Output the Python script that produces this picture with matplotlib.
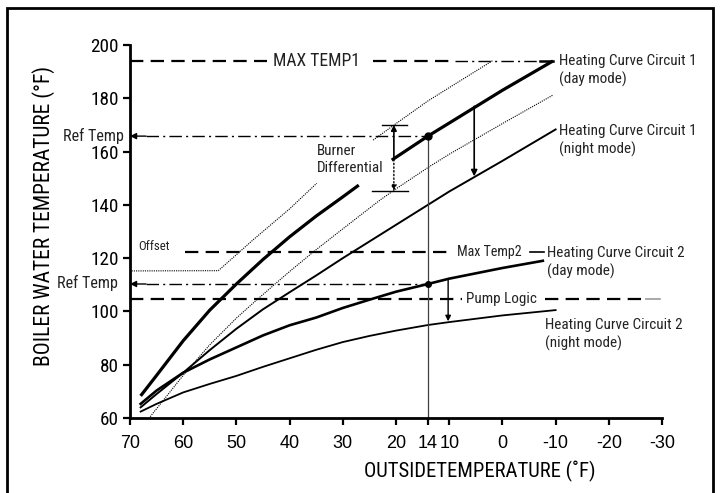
import numpy as np
import matplotlib
matplotlib.use("Agg")
import matplotlib.pyplot as plt
from matplotlib.patches import Rectangle
from matplotlib import font_manager as fm

# pick a narrow face if one is installed (chart uses Arial Narrow style text)
_faces = fm.fontManager.ttflist
_names = {f.name for f in _faces}
NARROW_KW = None
for n in ['Liberation Sans Narrow', 'Arial Narrow', 'Roboto Condensed', 'DejaVu Sans Condensed',
          'Open Sans Condensed', 'Noto Sans Condensed']:
    if n in _names:
        NARROW_KW = dict(family=[n, 'DejaVu Sans'])
        break
if NARROW_KW is None:
    for n in ['Liberation Sans', 'Roboto', 'Open Sans', 'Noto Sans', 'DejaVu Sans']:
        if any(f.name == n and f.stretch in ('condensed', 'semi-condensed', 'extra-condensed', 300, 400)
               and f.stretch != 'normal' for f in _faces):
            NARROW_KW = dict(family=[n, 'DejaVu Sans'], stretch='condensed')
            break
SHRINK = 1.0
if NARROW_KW is None:
    NARROW_KW = dict(family=['Roboto', 'DejaVu Sans'])
    SHRINK = 0.9
REG = ['Liberation Sans', 'DejaVu Sans']
nan = np.nan

# heating curves (outside temp F -> boiler water temp F)
day1_x = [68, 65, 60, 55, 50, 45, 40, 35, 30, 27, nan, 20.8, 14, 10, 0, -9.5]
day1_y = [68.3, 76, 89, 100.5, 110.3, 119.5, 128, 135.8, 143, 147.4, nan, 156.8, 165.8, 170.7, 183, 194]

band_hi_x = [69.7, 53.4, 50, 46.9, 40, 34.9, nan, 24.3, 20, 14, 10, 1.7]
band_hi_y = [115.2, 115.3, 121.3, 126.8, 138.5, 148.1, nan, 164.3, 170.5, 179, 184, 194.3]

band_lo_x = [66.2, 60, 55, 50, 46.2, 40, 35, 30, 23, 20, 14, 10, 0, -9.5]
band_lo_y = [60.5, 76, 87.5, 97.5, 104.3, 115, 123.2, 131, 141.8, 146, 154, 159, 170.5, 181.2]

night1_x = [68, 65, 60, 55, 50, 45, 40, 35, 30, 20, 14, 10, 0, -10]
night1_y = [64, 69, 77, 85.5, 93.5, 100.8, 107.2, 113.5, 120, 132.5, 140, 145, 156.5, 168.3]

day2_x = [68, 65, 60, 55, 50, 45, 40, 35, 30, 25, 20, 14, 10, 0, -7.6]
day2_y = [65.3, 70.3, 77, 82, 86.5, 91, 94.8, 97.7, 101.3, 104.4, 107.4, 110.3, 112.3, 116.3, 119]

night2_x = [68, 65, 60, 55, 50, 45, 40, 35, 30, 25, 20, 14, 10, 0, -10]
night2_y = [62.4, 65.3, 69.6, 72.8, 75.8, 79.2, 82.4, 85.6, 88.5, 90.8, 92.8, 94.9, 96, 98.5, 100.5]

max_temp1 = 194
max_temp2 = 122.2
pump_logic = 104.5
ref_temp1 = 165.8
ref_temp2 = 110.3
design_temp = 14

x_ticks = [70, 60, 50, 40, 30, 20, 14, 10, 0, -10, -20, -30]
y_ticks = [60, 80, 100, 120, 140, 160, 180, 200]

fig = plt.figure(figsize=(7.21, 4.93), dpi=100)
ax = fig.add_axes([130/721, 75/493, 532/721, 373/493])
ax.set_xlim(70, -30)
ax.set_ylim(60, 200)

# frame round the whole picture
fig.patches.append(Rectangle((7/721, -0.05), 706/721, 1.05 - 8/493, transform=fig.transFigure,
                             fill=False, lw=2, ec='k'))

dash = (0, (6, 3.3))
dashdot = (0, (9, 3, 1.5, 3))

# curves
ax.plot(day1_x, day1_y, color='k', lw=2.3, solid_capstyle='butt')
ax.plot(band_hi_x, band_hi_y, color='k', lw=0.8, ls=(0, (1, 1)))
ax.plot(band_lo_x, band_lo_y, color='k', lw=0.8, ls=(0, (1, 1)))
ax.plot(night1_x, night1_y, color='k', lw=1.4)
ax.plot(day2_x, day2_y, color='k', lw=1.9)
ax.plot(night2_x, night2_y, color='k', lw=1.3)

# limit lines
ax.plot([70, 44.2], [max_temp1] * 2, color='k', lw=1.6, ls=dash)
ax.plot([24.3, 9], [max_temp1] * 2, color='k', lw=1.6, ls=dash)
ax.plot([9, -7], [max_temp1] * 2, color='k', lw=1.0, ls=dashdot)
ax.plot([-7, -9.5], [max_temp1] * 2, color='k', lw=1.8)
ax.plot([59.7, 9.8], [max_temp2] * 2, color='k', lw=1.6, ls=dash)
ax.plot([-5.2, -7.8], [max_temp2] * 2, color='k', lw=1.2)
ax.plot([70, 7.6], [pump_logic] * 2, color='k', lw=1.6, ls=dash)
ax.plot([-8, -27], [pump_logic] * 2, color='k', lw=1.6, ls=dash)
ax.plot([-27, -29.6], [pump_logic] * 2, color='0.6', lw=1.2)

# reference temperature lines
for ry in (ref_temp1, ref_temp2):
    ax.plot([67, design_temp], [ry, ry], color='k', lw=1, ls=dashdot)
    ax.annotate('', xy=(70, ry), xytext=(67, ry),
                arrowprops=dict(arrowstyle='-|>', color='k', lw=1, mutation_scale=9,
                                shrinkA=0, shrinkB=0))
ax.plot([design_temp, design_temp], [60, ref_temp1], color='0.25', lw=0.9)
ax.plot([design_temp], [ref_temp1], 'ko', ms=5)
ax.plot([design_temp], [ref_temp2], 'ko', ms=4)

# burner differential
bx = 20.4
ax.plot([22.7, 18.0], [170, 170], color='k', lw=1)
ax.plot([24.6, 17.7], [145.3, 145.3], color='k', lw=1)
ax.annotate('', xy=(bx, 170), xytext=(bx, 157),
            arrowprops=dict(arrowstyle='-|>', color='k', lw=1.2, mutation_scale=8, shrinkA=0, shrinkB=0))
ax.annotate('', xy=(bx, 145.3), xytext=(bx, 157),
            arrowprops=dict(arrowstyle='-|>', color='k', lw=1, ls=':', mutation_scale=8, shrinkA=0, shrinkB=0))

# day -> night arrows
ax.annotate('', xy=(5.3, 150.7), xytext=(5.3, 177),
            arrowprops=dict(arrowstyle='-|>', color='k', lw=1.2, mutation_scale=9, shrinkA=0, shrinkB=0))
ax.annotate('', xy=(10.2, 96.3), xytext=(10.2, 112.4),
            arrowprops=dict(arrowstyle='-|>', color='k', lw=1, mutation_scale=8, shrinkA=0, shrinkB=0))

# texts
kw = dict(color='#222222', clip_on=False, va='center', **NARROW_KW)
s = SHRINK
ax.text(43.1, max_temp1, 'MAX TEMP1', fontsize=12.7 * s, **kw)
ax.text(8.6, max_temp2, 'Max Temp2', fontsize=10.1 * s, **kw)
ax.text(6.8, pump_logic, 'Pump Logic', fontsize=10.9 * s, **kw)
ax.text(34.8, 157.0, 'Burner\nDifferential', fontsize=10.9 * s, linespacing=1.25, **kw)
ax.text(68.5, 124.5, 'Offset', fontsize=9.3 * s, **kw)
ax.text(71.1, ref_temp1, 'Ref Temp', fontsize=11.6 * s, ha='right', **kw)
ax.text(72.3, 110.6, 'Ref Temp', fontsize=11.6 * s, ha='right', **kw)
ax.text(-10.6, 190.4, 'Heating Curve Circuit 1\n(day mode)', fontsize=10.9 * s, linespacing=1.3, **kw)
ax.text(-10.6, 164.3, 'Heating Curve Circuit 1\n(night mode)', fontsize=10.9 * s, linespacing=1.3, **kw)
ax.text(-8.4, 118.5, 'Heating Curve Circuit 2\n(day mode)', fontsize=10.9 * s, linespacing=1.3, **kw)
ax.text(-8.0, 91.5, 'Heating Curve Circuit 2\n(night mode)', fontsize=10.9 * s, linespacing=1.3, **kw)

# axes
for sp in ('top', 'right'):
    ax.spines[sp].set_visible(False)
for sp in ('left', 'bottom'):
    ax.spines[sp].set_linewidth(2)
ax.set_xticks(x_ticks)
ax.set_xticklabels([str(t) for t in x_ticks], family=REG, fontsize=13)
ax.set_yticks(y_ticks)
ax.set_yticklabels([str(t) for t in y_ticks], fontsize=13.8 * s, **NARROW_KW)
ax.tick_params(axis='x', direction='out', length=5, width=1.6, pad=7)
ax.tick_params(axis='y', direction='out', length=5, width=1.6, pad=3)

ax.set_ylabel('BOILER WATER TEMPERATURE (°F)', fontsize=15.5 * s, va='center', **NARROW_KW)
ax.yaxis.set_label_coords(-0.1635, 0.5416)
ax.set_xlabel('OUTSIDETEMPERATURE (˚F)', fontsize=14.9 * s, va='center', **NARROW_KW)
ax.xaxis.set_label_coords(0.658, -0.142)

fig.savefig('out.png', dpi=100)
